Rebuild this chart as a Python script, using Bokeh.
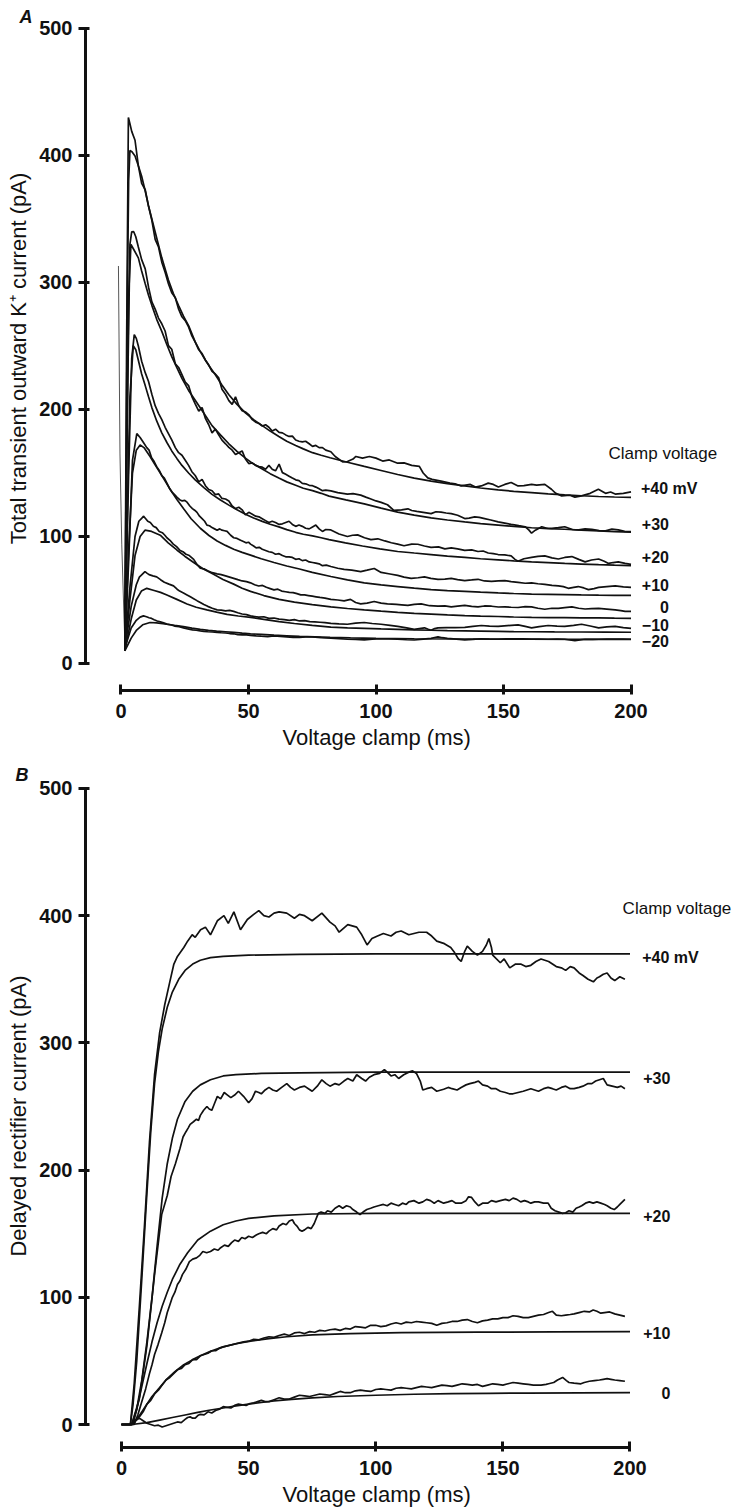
from bokeh.plotting import figure
from bokeh.models import Range1d, FixedTicker, Title
from bokeh.layouts import column
from bokeh.embed import file_html
from bokeh.resources import INLINE
from bokeh.core.properties import value

FONT = "Liberation Sans"
INK = "#111111"
X_TICKS = [0, 50, 100, 150, 200]
Y_TICKS = [0, 100, 200, 300, 400, 500]

# ---------------- Panel A : total transient outward K+ current (t ms, pA) ----------------
A_CAP = [(-1.0, 313), (-0.4, 165), (0.3, 94), (1.2, 35), (1.6, 12)]

A_RAW_P40 = [(1.5, 12), (2.2, 250), (2.9, 430), (3.5, 425), (4.2, 419), (5.5, 412), (6.8, 392), (8.1, 378), (9.5, 373), (10.8, 360), (12.1, 349), (13.4, 334), (14.7, 328), (16.0, 316), (17.3, 308), (18.6, 299), (19.9, 292), (21.3, 288), (22.6, 279), (23.9, 273), (25.2, 270), (26.5, 265), (27.8, 258), (29.1, 253), (30.5, 247), (31.8, 244), (33.1, 239), (34.4, 235), (35.7, 230), (37.0, 228), (38.3, 225), (39.6, 216), (41.0, 212), (42.3, 207), (43.6, 204), (44.9, 210), (46.2, 203), (47.5, 199), (48.8, 198), (50.1, 196), (51.5, 192), (52.8, 190), (54.1, 189), (55.4, 187), (56.7, 188), (58.0, 186), (59.3, 183), (60.6, 184.5), (62.0, 182), (63.3, 181.6), (64.6, 180), (65.9, 178.8), (67.2, 179), (68.5, 176), (69.8, 175), (71.1, 174.5), (72.4, 175), (73.8, 173), (75.1, 171), (76.4, 171.7), (77.7, 170), (79.0, 170), (80.3, 168), (82.3, 166.7), (84.0, 163), (86.9, 158.8), (88.8, 159), (91.0, 161), (92.1, 163), (94.7, 161.7), (97.4, 163), (100.0, 161.7), (102.6, 159.4), (105.2, 160.3), (108.5, 157.7), (111.0, 158), (114.0, 156), (117.0, 155.2), (118.5, 150), (120.3, 146.2), (122.0, 145), (125.5, 143.6), (129.0, 142), (131.0, 141.5), (133.4, 139.8), (137.0, 141), (139.0, 139), (141.3, 139.8), (144.0, 142), (146.0, 141), (148.0, 139), (150.5, 141), (153.0, 142.5), (155.7, 139.8), (158.0, 140), (161.0, 141), (163.0, 140.5), (166.2, 141), (168.8, 137.2), (170.5, 134), (172.8, 132), (176.0, 132.5), (178.0, 131), (180.6, 132), (184.0, 134), (187.2, 137.2), (190.0, 134), (192.0, 135), (193.8, 133.4), (197.0, 134), (200.0, 135.2)]
A_FIT_P40 = [(1.5, 10), (2.0, 150), (2.5, 290), (3.0, 380), (3.5, 404), (4.3, 403), (5.5, 399.6), (6.8, 392), (8.1, 383.6), (9.5, 372), (10.8, 360.2), (12.1, 350), (13.4, 339.8), (14.7, 329.5), (16.0, 319.4), (18.6, 302), (20.5, 291.5), (22.6, 281.9), (24.5, 273.5), (26.5, 266), (29.1, 253.2), (31.0, 246), (33.1, 238.8), (35.0, 233), (37.0, 227.4), (39.5, 219.5), (42.3, 211.6), (45.5, 204), (48.8, 197.3), (52.0, 192), (55.4, 187.3), (58.5, 183), (61.9, 178.8), (65.0, 175), (68.5, 171.7), (71.5, 169), (75.1, 166), (78.5, 164), (82.0, 162), (88.8, 158.5), (95.4, 155.2), (102.0, 152), (108.5, 148.8), (115.0, 146), (121.6, 143.6), (128.0, 141.6), (134.8, 139.8), (141.0, 138.2), (147.9, 136.7), (154.0, 135.6), (161.0, 134.6), (167.5, 133.6), (174.0, 132.8), (180.5, 132.1), (187.3, 131.5), (193.5, 131.1), (200.0, 130.8)]

A_RAW_P30 = [(1.5, 12), (2.5, 200), (3.5, 330), (4.2, 339.8), (5.0, 340), (5.8, 336), (6.8, 328), (8.1, 318), (9.5, 310.7), (10.8, 296.3), (12.1, 284.7), (13.4, 279), (14.7, 272), (16.0, 267.5), (17.3, 261.8), (18.6, 250.3), (19.9, 247.4), (21.3, 236), (22.6, 233.1), (23.9, 227.4), (25.2, 221.6), (26.5, 218.8), (27.8, 210.2), (29.1, 204.4), (30.5, 198.7), (31.8, 201.5), (33.1, 193), (34.4, 188), (35.7, 181.6), (37.0, 184.5), (38.3, 180), (39.6, 175.9), (41.0, 173), (42.3, 170.2), (43.6, 168), (44.9, 164.5), (46.2, 166), (47.5, 167.4), (48.8, 161), (50.1, 157.4), (51.5, 158), (52.8, 156), (54.1, 155), (55.4, 154.6), (56.7, 153), (58.0, 156), (59.3, 153), (60.6, 151.7), (62.0, 157), (63.3, 150.3), (64.6, 149), (65.9, 147.5), (67.2, 146), (68.5, 144.6), (69.8, 144), (71.1, 141.8), (72.4, 141.5), (73.8, 140.3), (75.1, 140), (76.4, 138.9), (77.7, 137.5), (79.0, 136.1), (80.3, 136.5), (82.3, 135.9), (85.0, 134.5), (88.8, 133.4), (91.0, 133.8), (94.0, 132.6), (96.0, 131), (98.0, 129.5), (100.0, 128), (102.0, 126.9), (104.5, 125), (107.0, 120.5), (110.0, 121), (112.5, 121.8), (114.0, 120.5), (116.0, 119.8), (118.5, 119), (121.6, 118), (123.5, 119.5), (125.5, 119.2), (127.5, 118.5), (129.5, 118), (132.0, 116.7), (134.8, 114.1), (136.5, 114.5), (138.7, 115.4), (140.5, 115), (142.6, 114.1), (145.0, 113), (147.9, 111.5), (150.5, 110.5), (153.0, 109.5), (156.0, 108.5), (158.5, 107.7), (160.0, 105), (161.0, 102.6), (162.5, 105), (165.0, 107.7), (167.0, 106.5), (169.0, 106.4), (171.5, 107), (174.0, 107.7), (177.0, 105.5), (179.5, 105.2), (182.0, 106), (184.6, 105.7), (187.5, 104.6), (190.0, 104.4), (192.5, 105.8), (195.0, 105.2), (197.5, 104), (200.0, 103.8)]
A_FIT_P30 = [(1.5, 10), (2.2, 150), (3.0, 290), (3.9, 330), (5.0, 326), (6.8, 319.4), (8.1, 309), (9.5, 299), (10.8, 290), (12.1, 282), (14.0, 271), (16.0, 261.5), (18.0, 251), (19.9, 241.6), (22.0, 232.5), (23.9, 224.5), (26.5, 215), (29.1, 207.3), (32.5, 197), (35.7, 187.3), (39.0, 180), (42.3, 173), (45.5, 167), (48.8, 161.7), (52.0, 157), (55.4, 153.2), (58.5, 149.5), (61.9, 146), (65.0, 143), (68.5, 140.3), (71.5, 138), (75.1, 136.1), (78.5, 134), (81.6, 131.8), (88.2, 128.8), (95.4, 125.7), (102.0, 122.3), (108.5, 119.2), (115.0, 116.8), (121.6, 114.6), (128.0, 113), (134.8, 111.5), (141.0, 110.2), (147.9, 109), (154.0, 107.9), (161.0, 106.9), (167.5, 106.2), (174.0, 105.7), (180.5, 105), (187.3, 104.4), (193.5, 103.9), (200.0, 103.4)]

A_RAW_P20 = [(1.5, 12), (3.0, 150), (4.2, 240), (5.2, 259), (6.0, 256), (6.8, 250), (8.1, 238), (9.5, 229), (10.8, 222), (12.1, 212), (13.4, 203), (14.7, 197), (16.0, 192), (17.3, 186), (18.6, 181), (19.9, 176), (21.3, 170), (22.6, 166), (23.9, 164), (25.2, 160), (26.5, 156), (27.8, 151), (29.1, 148), (30.5, 143), (31.8, 145), (33.1, 140), (34.4, 137), (35.7, 136), (37.0, 133), (38.3, 133.5), (39.6, 130), (41.0, 129.5), (42.3, 128), (43.6, 124), (44.9, 122), (46.2, 123), (47.5, 121), (48.8, 117), (50.1, 119), (51.5, 117.5), (52.8, 116), (54.1, 115.5), (55.4, 114), (56.7, 112.5), (58.0, 111), (59.3, 112), (60.6, 111), (62.0, 109.5), (63.3, 110), (64.6, 111), (65.9, 112), (67.2, 109.5), (68.5, 108), (69.8, 109), (71.1, 108), (72.4, 106.5), (73.8, 106), (75.1, 107.5), (76.4, 109), (77.7, 106), (79.0, 104), (80.3, 105.5), (82.3, 105.2), (85.5, 102), (88.8, 100), (90.8, 101), (92.8, 101.3), (95.5, 99), (98.0, 97.5), (100.7, 98.2), (103.5, 96.5), (106.0, 95.1), (108.5, 94), (111.0, 92.7), (114.0, 94), (116.4, 93.9), (119.0, 92.5), (121.6, 91.5), (124.5, 91.8), (127.0, 90.3), (129.5, 91), (132.0, 90.3), (134.8, 89.1), (137.5, 89.5), (140.0, 88.2), (142.0, 88.6), (144.0, 87), (146.0, 86.5), (147.9, 85.8), (150.5, 85.5), (153.0, 84.7), (154.5, 82), (155.7, 80.5), (158.0, 82.5), (161.0, 83.5), (163.5, 84.3), (166.2, 84.7), (169.0, 83.2), (171.5, 82.3), (174.0, 83.5), (176.8, 84.2), (179.5, 82), (182.0, 80), (184.5, 81.5), (187.3, 82.3), (189.5, 80.5), (191.2, 78.8), (193.0, 79.5), (195.0, 80), (197.7, 78.8), (200.0, 78.1)]
A_FIT_P20 = [(1.5, 10), (2.5, 120), (3.5, 210), (4.8, 250.3), (5.8, 247), (6.8, 238.8), (8.1, 228), (9.5, 218.8), (10.8, 210), (12.1, 201.5), (14.0, 191), (16.0, 181.6), (18.0, 174), (19.9, 167.4), (21.9, 161.5), (23.9, 156), (26.5, 150), (29.1, 144.6), (32.5, 138.5), (35.7, 133.2), (39.0, 128.7), (42.3, 124.7), (45.5, 121), (48.8, 117.6), (52.0, 114.6), (55.4, 111.9), (58.5, 109.6), (61.9, 107.6), (65.0, 105.4), (68.5, 103.3), (71.5, 101.8), (75.1, 100.5), (78.5, 99), (81.6, 97.6), (88.0, 95), (94.7, 92.5), (101.5, 90.2), (108.5, 88.2), (115.0, 87), (121.6, 85.8), (128.0, 84.6), (134.8, 83.5), (141.0, 82.5), (147.9, 81.6), (154.0, 80.8), (161.0, 80), (167.5, 79.4), (174.0, 78.8), (180.5, 78.3), (187.3, 77.8), (193.5, 77.4), (200.0, 77.1)]

A_RAW_P10 = [(1.5, 12), (3.0, 80), (4.5, 160), (6.2, 181), (7.5, 178), (8.8, 174), (10.1, 170), (11.0, 168), (12.0, 162), (13.0, 159), (14.0, 155), (15.0, 152), (16.0, 148), (17.0, 146), (18.0, 142), (19.0, 138), (20.0, 135), (21.0, 133), (21.9, 131), (23.0, 129), (24.0, 128), (25.0, 128.5), (25.9, 127), (27.0, 124), (28.0, 122), (29.0, 120.5), (29.8, 119), (30.8, 116), (31.8, 114), (32.8, 112), (33.7, 109), (34.7, 108.5), (35.7, 107), (36.7, 106), (37.7, 105), (38.7, 106), (39.6, 105), (40.6, 104.5), (41.6, 104), (43.0, 101), (44.2, 99), (45.5, 98.5), (46.9, 97), (48.0, 96), (49.0, 95), (50.0, 95.5), (50.8, 94), (52.0, 92.5), (53.0, 91), (54.2, 91.5), (55.4, 90), (56.7, 89), (58.0, 88), (59.3, 87.5), (60.6, 86), (62.0, 86.5), (63.3, 85), (64.6, 84), (65.9, 84), (67.2, 83.5), (68.5, 82), (69.8, 82.5), (71.1, 81), (72.4, 81.5), (73.8, 80), (75.1, 79.5), (76.4, 79), (77.7, 78.5), (79.0, 77), (80.5, 77.5), (82.3, 76.4), (85.0, 75), (87.5, 74.1), (90.5, 73.5), (94.0, 72.4), (96.5, 73.5), (99.3, 74.8), (102.0, 71.7), (105.5, 70.5), (108.5, 69.4), (111.0, 68), (113.8, 67), (116.5, 67.5), (119.0, 68.2), (121.5, 67), (124.3, 66.3), (127.0, 66.5), (129.5, 67), (132.0, 66), (134.8, 65.3), (137.5, 65.8), (140.0, 66.3), (142.5, 65), (145.3, 64.6), (148.0, 65), (150.5, 65.3), (153.0, 64.5), (155.7, 63.9), (158.5, 63.2), (161.0, 63.5), (163.5, 62.8), (166.2, 62.3), (169.0, 61.5), (171.5, 61.1), (173.5, 60.5), (175.4, 59.2), (177.5, 60), (179.3, 60.6), (181.5, 59.5), (183.3, 58.2), (185.5, 59), (187.3, 59.9), (190.5, 60.5), (193.8, 61.1), (197.0, 60.3), (200.0, 59.9)]
A_FIT_P10 = [(1.5, 10), (3.0, 90), (4.5, 150), (6.0, 168), (7.5, 172), (9.0, 170), (11.4, 163), (13.5, 156), (15.4, 150), (17.5, 143), (19.3, 137), (22.0, 129), (24.5, 122), (27.5, 114), (31.1, 106.5), (34.5, 100.8), (37.7, 96.5), (41.0, 93), (44.2, 90), (47.5, 87.5), (50.8, 85.3), (55.0, 82.5), (60.0, 79.5), (65.0, 76.8), (70.0, 74.4), (75.0, 71.8), (82.3, 68.5), (88.8, 65.8), (95.4, 63.5), (102.0, 61.9), (108.5, 60.6), (115.0, 59.3), (121.6, 58.2), (128.0, 57.4), (134.8, 56.8), (141.0, 56.2), (147.9, 55.6), (154.0, 55.1), (161.0, 54.7), (167.5, 54.5), (174.0, 54.3), (180.5, 54), (187.3, 53.8), (193.5, 53.7), (200.0, 53.6)]

A_RAW_0 = [(1.5, 12), (3.5, 60), (5.5, 100), (7.0, 112), (8.0, 114), (8.8, 116), (9.7, 114), (10.5, 112), (11.5, 111), (12.7, 108), (13.8, 107), (15.0, 104), (16.2, 103), (17.2, 101), (18.0, 99), (19.2, 97), (20.5, 94), (21.8, 92), (23.2, 89), (24.3, 88), (25.5, 86), (26.8, 85), (28.5, 82), (29.8, 78), (31.1, 75), (32.5, 74.5), (34.0, 73), (35.8, 71.5), (37.7, 70.6), (39.3, 70), (41.0, 69), (42.6, 68), (44.2, 67), (45.8, 66), (47.5, 65), (49.2, 64.5), (50.8, 63.5), (52.4, 62), (54.0, 61), (55.5, 61.5), (57.0, 60), (58.5, 59), (60.0, 58), (61.5, 58.5), (63.0, 57), (64.5, 56.5), (66.0, 56), (67.5, 55.8), (69.0, 55), (70.5, 54), (72.0, 54), (73.5, 53.5), (75.0, 53), (76.5, 52.5), (78.0, 52), (80.0, 51.5), (82.3, 50.5), (85.0, 50), (87.5, 49.3), (90.0, 50.5), (92.0, 48), (94.0, 46.9), (96.5, 47.5), (99.3, 48.8), (102.0, 47.5), (104.5, 46.9), (108.0, 46.5), (110.0, 46.2), (112.5, 45.8), (115.0, 46.5), (117.7, 46.9), (121.0, 45.5), (124.3, 45.1), (127.0, 45.4), (129.5, 44.6), (132.0, 45.2), (134.8, 45.8), (137.5, 45), (140.0, 44.6), (142.5, 45.3), (145.3, 45.1), (148.0, 44.5), (150.5, 44.6), (153.0, 44.3), (155.7, 44.1), (158.5, 44.8), (161.0, 44.6), (163.5, 43.5), (166.2, 42.7), (169.0, 43.5), (171.5, 43.4), (174.0, 44), (176.8, 44.6), (179.5, 43.5), (182.0, 42.9), (184.5, 43.2), (187.3, 43.4), (190.5, 42.8), (193.8, 42.2), (196.0, 41.6), (197.7, 41), (200.0, 41)]
A_FIT_0 = [(1.5, 10), (3.5, 50), (5.5, 85), (7.5, 100), (9.4, 105), (12.0, 104), (15.4, 101), (18.5, 95), (21.9, 89.4), (25.0, 84.5), (28.5, 79.5), (32.0, 74.8), (36.3, 70.2), (40.0, 66.2), (44.2, 62.5), (47.5, 59.3), (50.8, 56.8), (56.0, 53.5), (62.0, 50.5), (68.0, 48.3), (75.0, 46.3), (82.3, 44.6), (88.8, 43.3), (95.4, 42.2), (102.0, 41.2), (108.5, 40.3), (115.0, 39.5), (121.6, 38.9), (128.0, 38.3), (134.8, 37.7), (141.0, 37.3), (147.9, 37), (154.0, 36.6), (161.0, 36.3), (167.5, 36.2), (174.0, 36.1), (180.5, 36), (187.3, 35.9), (193.5, 35.7), (200.0, 35.6)]

A_RAW_M10 = [(1.5, 12), (4.0, 45), (6.0, 62), (7.2, 68), (8.2, 70), (9.4, 72.4), (10.3, 71), (11.0, 70), (12.5, 69), (14.0, 68.2), (15.5, 66), (17.0, 64), (18.8, 62.5), (20.6, 61.1), (22.0, 58.5), (23.0, 57), (24.5, 55.5), (25.9, 54), (27.2, 52.5), (28.5, 51), (29.8, 49.5), (31.1, 48.1), (32.5, 46.5), (34.0, 45), (35.8, 43.5), (37.7, 42.2), (39.3, 42), (41.0, 41.5), (42.6, 41.8), (44.2, 41), (45.8, 40), (47.5, 39), (49.2, 38.5), (50.8, 37.5), (52.4, 37), (54.0, 36.5), (56.0, 36.8), (58.0, 35.5), (60.0, 35.8), (62.0, 35), (64.0, 34.6), (66.0, 34), (68.0, 34.5), (70.0, 33.5), (72.0, 33.8), (74.0, 33), (76.0, 32.8), (78.0, 32.5), (80.0, 32.2), (82.3, 31.6), (85.5, 31.2), (88.8, 30.9), (92.0, 31.8), (95.4, 32.3), (98.5, 31.5), (102.0, 30.9), (105.5, 30), (108.5, 29.2), (112.0, 28), (115.0, 26.9), (117.0, 27.5), (119.0, 28.1), (120.5, 27), (121.6, 26.2), (123.0, 27.5), (124.3, 28.1), (127.5, 28.3), (131.0, 28.2), (134.8, 28.5), (138.0, 29.2), (141.3, 29.9), (144.5, 29.5), (147.9, 29.2), (151.5, 29.8), (155.7, 30.4), (158.5, 29.2), (161.0, 28.1), (164.0, 29), (167.5, 29.9), (171.0, 29.5), (174.0, 29.2), (177.5, 30), (180.6, 30.9), (184.0, 29.5), (187.3, 28.1), (190.5, 28.8), (193.8, 29.2), (197.0, 28.3), (200.0, 27.6)]
A_FIT_M10 = [(1.5, 10), (4.0, 35), (6.0, 50), (8.0, 57), (10.1, 59.2), (13.0, 57.5), (15.5, 56), (18.0, 54), (21.9, 50.5), (25.9, 46.9), (29.5, 44.3), (33.7, 42.2), (37.5, 40.4), (41.6, 38.7), (46.0, 37.4), (50.8, 36.3), (56.0, 34.8), (62.0, 33), (68.0, 31.5), (75.0, 30), (82.3, 28.6), (88.8, 28), (95.4, 27.6), (102.0, 27.2), (108.5, 26.9), (115.0, 26.5), (121.6, 26.2), (128.0, 25.9), (134.8, 25.7), (141.0, 25.5), (147.9, 25.3), (154.0, 25.1), (161.0, 25), (170.0, 24.9), (180.0, 24.8), (190.0, 24.7), (200.0, 24.6)]

A_RAW_M20 = [(1.5, 12), (4.0, 28), (6.0, 34), (7.5, 36.5), (8.8, 37.5), (10.0, 36.8), (11.0, 36), (12.0, 35.5), (13.0, 34.5), (14.2, 33.5), (15.4, 32.8), (16.7, 32), (18.0, 31), (19.5, 30.5), (21.0, 29.5), (22.8, 29), (24.5, 28.1), (26.2, 27.2), (28.0, 26.5), (29.5, 26.2), (31.1, 25.7), (32.5, 25.3), (34.0, 25), (35.8, 24.8), (37.7, 24.5), (39.3, 24.2), (41.0, 24), (42.6, 23.6), (44.2, 23.4), (45.8, 22.7), (47.5, 22.5), (49.2, 22.6), (50.8, 22.2), (53.0, 21.8), (55.0, 21.5), (57.5, 21.2), (60.0, 21.8), (62.5, 21.3), (65.0, 21), (67.5, 20.6), (70.0, 20.5), (72.5, 20.9), (75.0, 21), (78.5, 20.4), (82.3, 20), (85.5, 19.6), (88.8, 19.1), (92.0, 18.9), (95.4, 18.6), (98.5, 19.2), (102.0, 19.5), (105.0, 19.3), (108.5, 19.1), (112.0, 18.7), (115.0, 18.5), (118.5, 19.2), (121.6, 19.8), (123.0, 20.5), (124.3, 21), (126.0, 20.3), (128.0, 19.8), (131.5, 19.2), (134.8, 18.6), (138.0, 19), (141.3, 19.5), (144.5, 19.3), (147.9, 19.1), (151.0, 19.4), (154.0, 19.5), (157.5, 19.4), (161.0, 19.3), (164.0, 19.2), (167.5, 19.1), (171.0, 19.3), (174.0, 19.1), (176.0, 18.5), (178.0, 17.9), (180.0, 18.6), (182.0, 19.1), (185.0, 19), (187.3, 19.1), (190.5, 19.2), (193.8, 19.3), (197.0, 19.2), (200.0, 19.1)]
A_FIT_M20 = [(1.5, 10), (4.0, 20), (6.0, 26), (8.5, 30.5), (11.4, 32.3), (14.0, 32), (18.0, 30.9), (21.0, 30), (24.5, 29), (27.8, 27.9), (31.1, 26.9), (34.3, 26.1), (37.5, 25.5), (41.0, 25), (44.2, 24.5), (47.5, 23.9), (50.8, 23.4), (55.0, 22.9), (60.0, 22.3), (65.0, 21.8), (70.0, 21.3), (76.0, 20.9), (82.0, 20.5), (90.0, 20.1), (100.0, 19.8), (115.0, 19.5), (130.0, 19.3), (145.0, 19.2), (160.0, 19.1), (180.0, 19.05), (200.0, 19)]

A_LABELS = ["+30", "+20", "+10", "0", "\u221210", "\u221220"]
A_LABEL_Y = [109.8, 83.5, 61.6, 44.6, 30.4, 17.7]
A_TOP_LABEL_Y = 137.5
A_HEAD_Y = 165

# ---------------- Panel B : delayed rectifier current (t ms, pA) ----------------
B_RAW_P40 = [(0, 0), (3.5, 0), (5, 32), (7, 92), (9, 155), (11, 222), (13, 275), (15, 308), (17, 330), (19, 348), (20.6, 362), (22, 368), (24.5, 375), (26, 380), (27.8, 385), (29, 383), (31.1, 389), (33, 391), (35, 385), (37.7, 396), (40.3, 400), (42, 394), (44.2, 403), (46.8, 389), (49.5, 397), (52, 401), (54, 404), (56, 400), (58, 399), (60, 402), (62, 403), (65, 402), (68, 398), (70, 401), (72, 400), (75, 396), (78.8, 402), (82, 395), (84, 392), (85.6, 387), (89, 393), (92.5, 391), (94.5, 385), (96.6, 377), (98.5, 382), (100.7, 384), (103, 386), (106, 384), (108, 387), (110, 388), (113, 385), (117, 387), (120, 387), (122, 384), (124, 380), (127, 378), (129.5, 375), (131, 371), (132.5, 366), (133.6, 364), (135, 372), (136, 376), (138, 372), (140, 369), (142, 372), (143.5, 377), (144.5, 382), (145.5, 375), (146, 369), (149, 363), (150.5, 366), (152.7, 359), (155, 362), (157, 362), (159, 360), (161, 361), (163, 364), (165, 366), (168, 364), (171, 360), (173, 359), (174.7, 357), (176.5, 360), (178, 359), (180, 355), (181.5, 353), (183.5, 350), (185.6, 348), (187, 351), (188, 352), (189.5, 354), (191, 355), (192.5, 351), (194, 349), (196, 352), (198, 350)]
B_FIT_P40 = [(0, 0), (3.5, 0), (4.5, 15), (6, 50), (8, 115), (10, 182), (11.5, 230), (13, 268), (14.5, 293), (16, 311), (18, 328), (20, 340), (22.5, 350), (25, 357), (28, 362), (31, 365), (35, 367), (40, 368), (50, 369), (70, 369.6), (100, 370), (150, 370), (200, 370)]

B_RAW_P30 = [(0, 0), (4, 0), (7, 20), (10, 62), (13, 118), (15.8, 165), (18, 180), (19.5, 195), (21.2, 205), (23, 217), (24.2, 226), (25.3, 230), (26.2, 233), (27, 236), (28.3, 238), (29.5, 240), (30.3, 239), (31, 243), (32.3, 247), (33.6, 250), (34.5, 248), (35.5, 247), (36.5, 252), (37.7, 258), (39, 256), (40.4, 261), (41.7, 259), (43, 257), (44.5, 259), (46, 262), (48, 258), (50, 253), (51.3, 256), (52.7, 262), (54, 261), (55, 260), (56.5, 263), (58, 265), (59.5, 263), (61, 262), (63, 265), (65, 268), (66.5, 265), (68, 263), (70, 265), (72, 266), (73.5, 264), (75, 262), (77, 266), (78.8, 271), (80.5, 268), (82, 266), (84, 268), (85.6, 267), (87.5, 270), (89, 272), (91, 270), (92.5, 275), (94.5, 272), (96, 270), (97.5, 273), (99.3, 275), (101.5, 276), (103.4, 279), (105, 276), (106, 274), (107.5, 275), (109, 272), (111, 275), (113, 277), (114.5, 278), (116, 276), (117.5, 270), (118.5, 263), (120, 264), (122, 265), (124, 262), (126.7, 263.6), (128.5, 265), (130, 264), (132, 263), (133.6, 265), (135.5, 267), (137, 268), (139, 269), (140.4, 270), (142, 267), (144, 266), (145.5, 264), (147.3, 264), (149, 262), (151, 261), (152.5, 260), (154, 260), (156, 261), (158, 262), (159.5, 263), (161, 264), (162.5, 263), (164, 262), (166, 264), (167.8, 265), (169.5, 264), (171, 263), (173, 265), (174.7, 266), (176.5, 264), (178, 264), (180, 265), (181.5, 266), (183.5, 268), (185, 268), (186.5, 270), (188, 271), (189.5, 272), (191, 267), (193, 266), (195, 265), (196.5, 266), (198, 264)]
B_FIT_P30 = [(0, 0), (4, 0), (6, 12), (8, 35), (10, 65), (12, 100), (14, 140), (16, 178), (18, 205), (20, 225), (22, 240), (25, 254), (28, 262), (31, 267), (35, 271), (40, 274), (45, 275), (55, 276), (70, 276.5), (100, 277), (150, 277), (200, 277)]

B_RAW_P20 = [(0, 0), (5, 0), (6.5, 8), (8, 18), (9.5, 28), (11, 40), (12, 47), (13, 55), (14.4, 63), (15.8, 72), (17, 80), (18, 88), (19, 94), (20, 100), (21, 104), (22, 110), (23, 113), (24, 118), (25.3, 122), (26.7, 128), (28, 130), (29.5, 131), (30.8, 133), (32, 136), (33.5, 135), (35, 136), (36.5, 138), (38, 137), (39, 139), (40.5, 141), (42, 140), (43.3, 143), (44.5, 145), (46, 144), (47.3, 147), (48.6, 146), (50, 148), (51.5, 147), (53, 149), (54, 150), (55.5, 151), (57, 150), (58, 152), (59.5, 154), (61, 153), (62, 156), (63.5, 158), (64.8, 157), (66, 160), (67.2, 161), (68, 158), (69, 156), (70, 153), (71, 152), (72, 153), (73.3, 155), (74.6, 154), (75.8, 158), (77.4, 166), (78.5, 167), (80, 166), (81, 168), (82.5, 167), (84, 170), (85.6, 172), (87, 170), (88.5, 172), (90, 171), (91, 169), (92.5, 167), (93.8, 165), (95, 167), (96.5, 169), (98, 170), (99.3, 171), (101, 172), (103, 173), (104.5, 172), (106, 174), (107.5, 173), (109, 172), (110.5, 174), (112, 173), (113, 175), (115, 176), (117, 174), (118.5, 175), (120, 177), (121.5, 176), (123, 174), (124.5, 176), (126.7, 174), (128.5, 175), (130, 176), (131.5, 174), (133.6, 174), (135.5, 176), (136.5, 179), (137.7, 178.5), (139, 175), (140.4, 172), (142, 174), (144, 174), (145.5, 176), (147.3, 175), (149, 176), (151, 177), (152.5, 176), (154, 178), (155.5, 177), (157, 175), (158.5, 176), (160, 175), (161, 174), (162.5, 175), (164, 175), (166, 174), (167.8, 174), (169, 170), (170.5, 168), (172, 167), (173.5, 166), (174.7, 166.5), (176, 168), (177.5, 167), (178.8, 170), (180, 171), (181, 172), (182.5, 174), (184, 175), (185.5, 174), (187, 175), (188.5, 174), (190, 173), (191, 172), (192.5, 170), (193.8, 169), (195, 171), (196, 173), (197, 175), (198, 177)]
B_FIT_P20 = [(0, 0), (4.5, 0), (6, 12), (8, 30), (10, 48), (12, 65), (14, 80), (16, 93), (18, 104), (20, 114), (23, 126), (26, 135), (30, 145), (35, 152), (40, 157), (45, 160), (50, 162), (60, 164), (75, 165.5), (100, 166), (150, 166), (200, 166)]

B_RAW_P10 = [(0, 0), (4, 0), (5.5, 3), (7, 6), (8.5, 10), (10, 16), (11.5, 19), (13, 24), (14.5, 27), (16, 31), (17.5, 35), (19, 37), (20.5, 40), (22, 43), (23.5, 44), (25, 47), (26.5, 48), (28, 51), (29.5, 51), (31, 54), (32.5, 55), (34, 56), (35.5, 58), (37, 58), (38.5, 60), (40, 61), (42, 62), (44, 63), (46, 64), (48, 65), (50, 65.5), (52, 67), (54, 66.5), (56, 68), (58, 69), (60, 68.5), (62, 70), (64, 71), (66, 70), (68, 72), (70, 72.5), (72, 71.5), (74, 73), (76, 72.5), (78, 74), (80, 73.5), (82, 74.5), (84, 75), (86, 74), (88, 75.5), (90, 75), (92, 77), (94, 76.5), (96, 76), (98, 78), (100, 78), (102, 77), (104, 77.5), (106, 79), (108, 80), (110, 79), (112, 80.5), (114, 80), (116, 81), (118, 80.5), (120, 80), (122, 79.5), (124, 78), (126, 79.5), (128, 80), (130, 81), (132, 81), (134, 82), (136, 82.5), (138, 81), (140, 80), (142, 81.5), (144, 82), (146, 83), (148, 83), (150, 84), (152, 84), (154, 85.5), (156, 85), (158, 84), (160, 84), (162, 85), (164, 86), (166, 86.5), (168, 88), (169.5, 89), (171, 86), (173, 85.5), (174.7, 86), (176.5, 86.5), (178, 87), (180, 88), (182, 89), (184, 88.5), (185.5, 90), (187, 89), (188.5, 87.5), (190, 88), (192, 88.5), (194, 87), (196, 86), (198, 85)]
B_FIT_P10 = [(0, 0), (3.5, 0), (5, 2), (7, 7), (9, 13), (12, 22), (15, 29), (17.5, 35), (21, 41.5), (24.5, 47), (28, 51), (31, 54), (35, 57.5), (40, 61), (45, 63.5), (50.8, 65.5), (58, 67.5), (65, 69), (75, 70.5), (90, 71.5), (110, 72.2), (140, 72.6), (170, 72.8), (200, 73)]

B_RAW_0 = [(0, 0), (4, 0), (5.5, 3), (7, 5), (8.5, 3), (10, 1), (11.5, 0), (13, -1), (14.5, -0.5), (16, -2), (17.5, -1), (19, 0), (20.5, 1), (22, 2), (23.5, 1.5), (25, 4), (26, 5.5), (27, 6), (28, 5), (29, 5), (30, 7), (31, 8), (32.5, 7.5), (34, 10), (35.5, 9), (37, 11), (38.5, 12), (40, 14), (41.5, 13.5), (43, 13), (44.5, 15), (46, 16), (47.5, 15.5), (49, 15), (50.5, 16.5), (52, 17), (53.5, 18), (55, 19), (56.5, 18), (58, 18), (60, 19.5), (62, 21), (64, 20), (66, 20), (68, 21.5), (70, 23), (72, 22.5), (74, 22), (76, 23), (78, 24), (80, 23.5), (82, 23), (84, 24.5), (86, 26), (88, 25), (90, 25), (92, 26.5), (94, 27), (96, 26.5), (98, 26), (100, 27.5), (102, 28), (104, 27.5), (106, 27), (108, 28.5), (110, 29), (112, 28.5), (114, 28), (116, 29), (118, 30), (120, 29.5), (122, 29), (124, 30), (126, 31), (128, 30.5), (130, 30), (132, 31), (134, 32), (136, 31.5), (138, 31), (140, 31.5), (142, 30), (144, 31), (146, 32), (148, 31.5), (150, 31), (152, 32), (154, 33), (156, 32.5), (158, 32), (160, 31.5), (162, 31), (164, 31), (165, 31), (167, 31.5), (168, 32), (170, 33), (171.5, 35), (173.5, 37), (175, 34.5), (176, 33), (178, 32.5), (180.7, 32), (182, 33), (184, 34), (186, 34.5), (188, 35), (189.5, 35.5), (191, 36), (192.5, 35.5), (194, 35), (196, 34.5), (198, 34)]
B_FIT_0 = [(0, 0), (4, 0), (10, 1.5), (15, 3.5), (20, 5.5), (25, 7.5), (30, 9.5), (35, 11.4), (40, 13), (45, 14.6), (50, 16), (55, 17.3), (60, 18.5), (67, 19.8), (75, 21), (85, 22), (100, 23), (115, 23.8), (130, 24.2), (145, 24.5), (160, 24.7), (180, 24.9), (200, 25)]

B_LABELS = ["+30", "+20", "+10", "0"]
B_LABEL_Y = [272.7, 163.8, 71.8, 24.6]
B_TOP_LABEL_Y = 367
B_HEAD_Y = 405.7


def xy(pairs):
    return [q[0] for q in pairs], [q[1] for q in pairs]


def make_panel(height, xr, yr, top, bottom, ylabel, letter, letter_offset):
    p = figure(width=736, height=height, x_range=Range1d(*xr), y_range=Range1d(*yr),
               output_backend="svg", toolbar_location=None, title=None,
               min_border_left=85, min_border_right=0,
               min_border_top=top, min_border_bottom=bottom)
    p.xgrid.visible = False
    p.ygrid.visible = False
    p.outline_line_color = None
    p.background_fill_color = "white"
    p.border_fill_color = "white"

    xa = p.xaxis[0]
    xa.ticker = FixedTicker(ticks=X_TICKS)
    xa.bounds = (0, 200)
    xa.axis_line_width = 3
    xa.axis_line_color = INK
    xa.major_tick_line_width = 3
    xa.major_tick_line_color = INK
    xa.major_tick_in = 6
    xa.major_tick_out = 4
    xa.minor_tick_line_color = None
    xa.major_label_standoff = 9
    xa.major_label_text_font = FONT
    xa.major_label_text_font_style = "bold"
    xa.major_label_text_font_size = "20px"
    xa.major_label_text_color = INK
    xa.axis_label = None

    ya = p.yaxis[0]
    ya.ticker = FixedTicker(ticks=Y_TICKS)
    ya.bounds = (0, 500)
    ya.axis_line_width = 3
    ya.axis_line_color = INK
    ya.major_tick_line_width = 3
    ya.major_tick_line_color = INK
    ya.major_tick_in = 4
    ya.major_tick_out = 7
    ya.minor_tick_line_color = None
    ya.major_label_standoff = 6
    ya.major_label_text_font = FONT
    ya.major_label_text_font_style = "bold"
    ya.major_label_text_font_size = "20px"
    ya.major_label_text_color = INK
    ya.axis_label = ylabel
    ya.axis_label_text_font = FONT
    ya.axis_label_text_font_style = "normal"
    ya.axis_label_text_font_size = "22px"
    ya.axis_label_text_color = INK
    ya.axis_label_standoff = 5

    # x-axis caption, placed below the axis (left-aligned with an offset from the frame)
    p.add_layout(Title(text="Voltage clamp (ms)", align="left", offset=197, standoff=4,
                       text_font=FONT, text_font_size="22px", text_font_style="normal",
                       text_color=INK), "below")
    # panel letter
    p.add_layout(Title(text=letter, align="left", offset=letter_offset, standoff=0,
                       text_font=FONT, text_font_size="18px", text_font_style="bold italic",
                       text_color=INK), "above")
    return p


def add_trace(p, pairs, width=1.7, color=INK):
    x, y = xy(pairs)
    p.line(x, y, line_color=color, line_width=width)


def add_text(p, xs, ys, texts, size, style, align):
    p.text(x=xs, y=ys, text=texts, text_font=value(FONT), text_font_size=size,
           text_font_style=style, text_align=align, text_baseline="middle", text_color=INK)


# ---- Panel A ----
pA = make_panel(755, (-13.92, 241.37), (-21.26, 501.57), 26, 65,
                "Total transient outward K\u207a current (pA)", "A", -66)
add_trace(pA, A_CAP, width=1.0, color="#555555")
for series in [A_RAW_P40, A_FIT_P40, A_RAW_P30, A_FIT_P30, A_RAW_P20, A_FIT_P20,
               A_RAW_P10, A_FIT_P10, A_RAW_0, A_FIT_0, A_RAW_M10, A_FIT_M10,
               A_RAW_M20, A_FIT_M20]:
    add_trace(pA, series)
add_text(pA, [191.2], [A_HEAD_Y], ["Clamp voltage"], "17px", "normal", "left")
add_text(pA, [203.9], [A_TOP_LABEL_Y], ["+40 mV"], "16px", "bold", "left")
add_text(pA, [214.9] * len(A_LABELS), A_LABEL_Y, A_LABELS, "16px", "bold", "right")

# ---- Panel B ----
pB = make_panel(756, (-14.16, 241.89), (-18.08, 503.14), 29, 64,
                "Delayed rectifier current (pA)", "B", -70)
for series in [B_RAW_P40, B_FIT_P40, B_RAW_P30, B_FIT_P30, B_RAW_P20, B_FIT_P20,
               B_RAW_P10, B_FIT_P10, B_RAW_0, B_FIT_0]:
    add_trace(pB, series)
add_text(pB, [197.1], [B_HEAD_Y], ["Clamp voltage"], "17px", "normal", "left")
add_text(pB, [204.8], [B_TOP_LABEL_Y], ["+40 mV"], "16px", "bold", "left")
add_text(pB, [215.9] * len(B_LABELS), B_LABEL_Y, B_LABELS, "16px", "bold", "right")

layout = column(pA, pB, spacing=0)
open("out.html", "w").write(file_html(layout, INLINE))
